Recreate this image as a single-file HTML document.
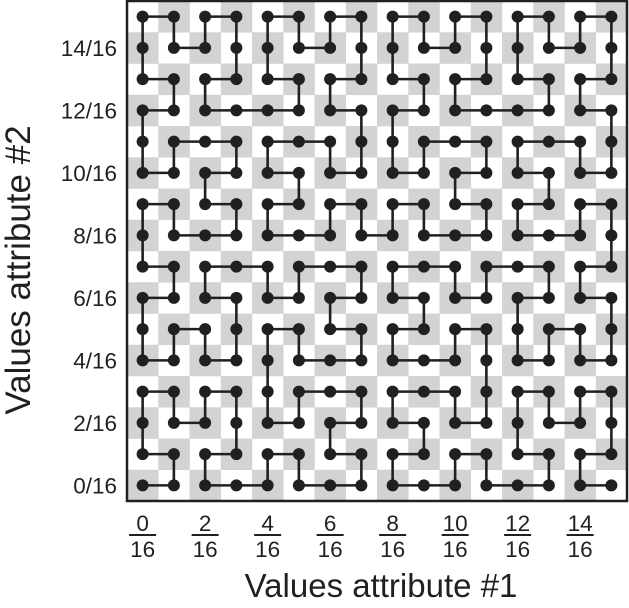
<!DOCTYPE html>
<html><head><meta charset="utf-8"><style>
html,body{margin:0;padding:0;background:#fff;}
svg{display:block;font-family:"Liberation Sans",Arial,sans-serif;}
</style></head><body>
<svg id="chart" width="629" height="608" viewBox="0 0 629 608" xmlns="http://www.w3.org/2000/svg">
<g id="bg"></g>
<g id="lines"></g>
<g id="dots"></g>
<rect x="127" y="1" width="500" height="500" fill="none" stroke="#231f20" stroke-width="2.5"/>
<g id="yticks"></g>
<g id="xticks"></g>
<text x="381" y="597" font-size="33" text-anchor="middle" fill="#231f20">Values attribute #1</text>
<text transform="translate(30,270) rotate(-90)" font-size="35" text-anchor="middle" fill="#231f20">Values attribute #2</text>
</svg>
<script>
const gridSize = 16;
const xTickValues = [0, 2, 4, 6, 8, 10, 12, 14];
const yTickValues = [0, 2, 4, 6, 8, 10, 12, 14];
const tickDenominator = 16;

const NS = "http://www.w3.org/2000/svg";
const L = 127, T = 1, W = 500, H = 500;
const cw = W / gridSize, ch = H / gridSize;
function xs(i){ return L + cw * (i + 0.5); }
function ys(j){ return T + H - ch * (j + 0.5); }

function d2xy(n, d){
  let x = 0, y = 0, t = d;
  for (let s = 1; s < n; s *= 2){
    const rx = 1 & (t >> 1), ry = 1 & (t ^ rx);
    if (ry === 0){ if (rx === 1){ x = s - 1 - x; y = s - 1 - y; } const tmp = x; x = y; y = tmp; }
    x += s * rx; y += s * ry; t >>= 2;
  }
  return [x, y];
}

const bg = document.getElementById('bg');
for (let r = 0; r < gridSize; r++) for (let c = 0; c < gridSize; c++){
  if ((r + c) % 2 === 1){
    const rc = document.createElementNS(NS, 'rect');
    
    
    rc.setAttribute('x', L + c * cw); rc.setAttribute('y', T + r * ch);
    rc.setAttribute('width', cw + 0.3); rc.setAttribute('height', ch + 0.3);
    rc.setAttribute('fill', '#d3d3d4');
    bg.appendChild(rc);
  }
}

const pts = [];
for (let d = 0; d < gridSize * gridSize; d++) pts.push(d2xy(gridSize, d));
const lg = document.getElementById('lines');
const pl = document.createElementNS(NS, 'polyline');


pl.setAttribute('points', pts.map(p => xs(p[0]) + ',' + ys(p[1])).join(' '));
pl.setAttribute('fill', 'none'); pl.setAttribute('stroke', '#231f20'); pl.setAttribute('stroke-width', '2.6');
lg.appendChild(pl);

const dg = document.getElementById('dots');
pts.forEach(p => {
  const c = document.createElementNS(NS, 'circle');
  
  
  c.setAttribute('cx', xs(p[0])); c.setAttribute('cy', ys(p[1])); c.setAttribute('r', 6);
  c.setAttribute('fill', '#231f20');
  dg.appendChild(c);
});

const yt = document.getElementById('yticks');
yTickValues.forEach(v => {
  const t = document.createElementNS(NS, 'text');
  
  
  t.setAttribute('x', 117); t.setAttribute('y', ys(v) + 8);
  t.setAttribute('font-size', '22.5'); t.setAttribute('text-anchor', 'end'); t.setAttribute('fill', '#231f20');
  t.textContent = v + '/' + tickDenominator;
  yt.appendChild(t);
});

const xt = document.getElementById('xticks');
xTickValues.forEach(v => {
  const cx = xs(v);
  const num = document.createElementNS(NS, 'text');
  
  
  num.setAttribute('x', cx); num.setAttribute('y', 531);
  num.setAttribute('font-size', '22.5'); num.setAttribute('text-anchor', 'middle'); num.setAttribute('fill', '#231f20');
  num.textContent = v;
  xt.appendChild(num);
  const bar = document.createElementNS(NS, 'line');
  
  
  bar.setAttribute('x1', cx - 13.5); bar.setAttribute('x2', cx + 13.5);
  bar.setAttribute('y1', 535); bar.setAttribute('y2', 535);
  bar.setAttribute('stroke', '#231f20'); bar.setAttribute('stroke-width', '2');
  xt.appendChild(bar);
  const den = document.createElementNS(NS, 'text');
  
  
  den.setAttribute('x', cx); den.setAttribute('y', 557);
  den.setAttribute('font-size', '22.5'); den.setAttribute('text-anchor', 'middle'); den.setAttribute('fill', '#231f20');
  den.textContent = tickDenominator;
  xt.appendChild(den);
});
</script>
</body></html>
